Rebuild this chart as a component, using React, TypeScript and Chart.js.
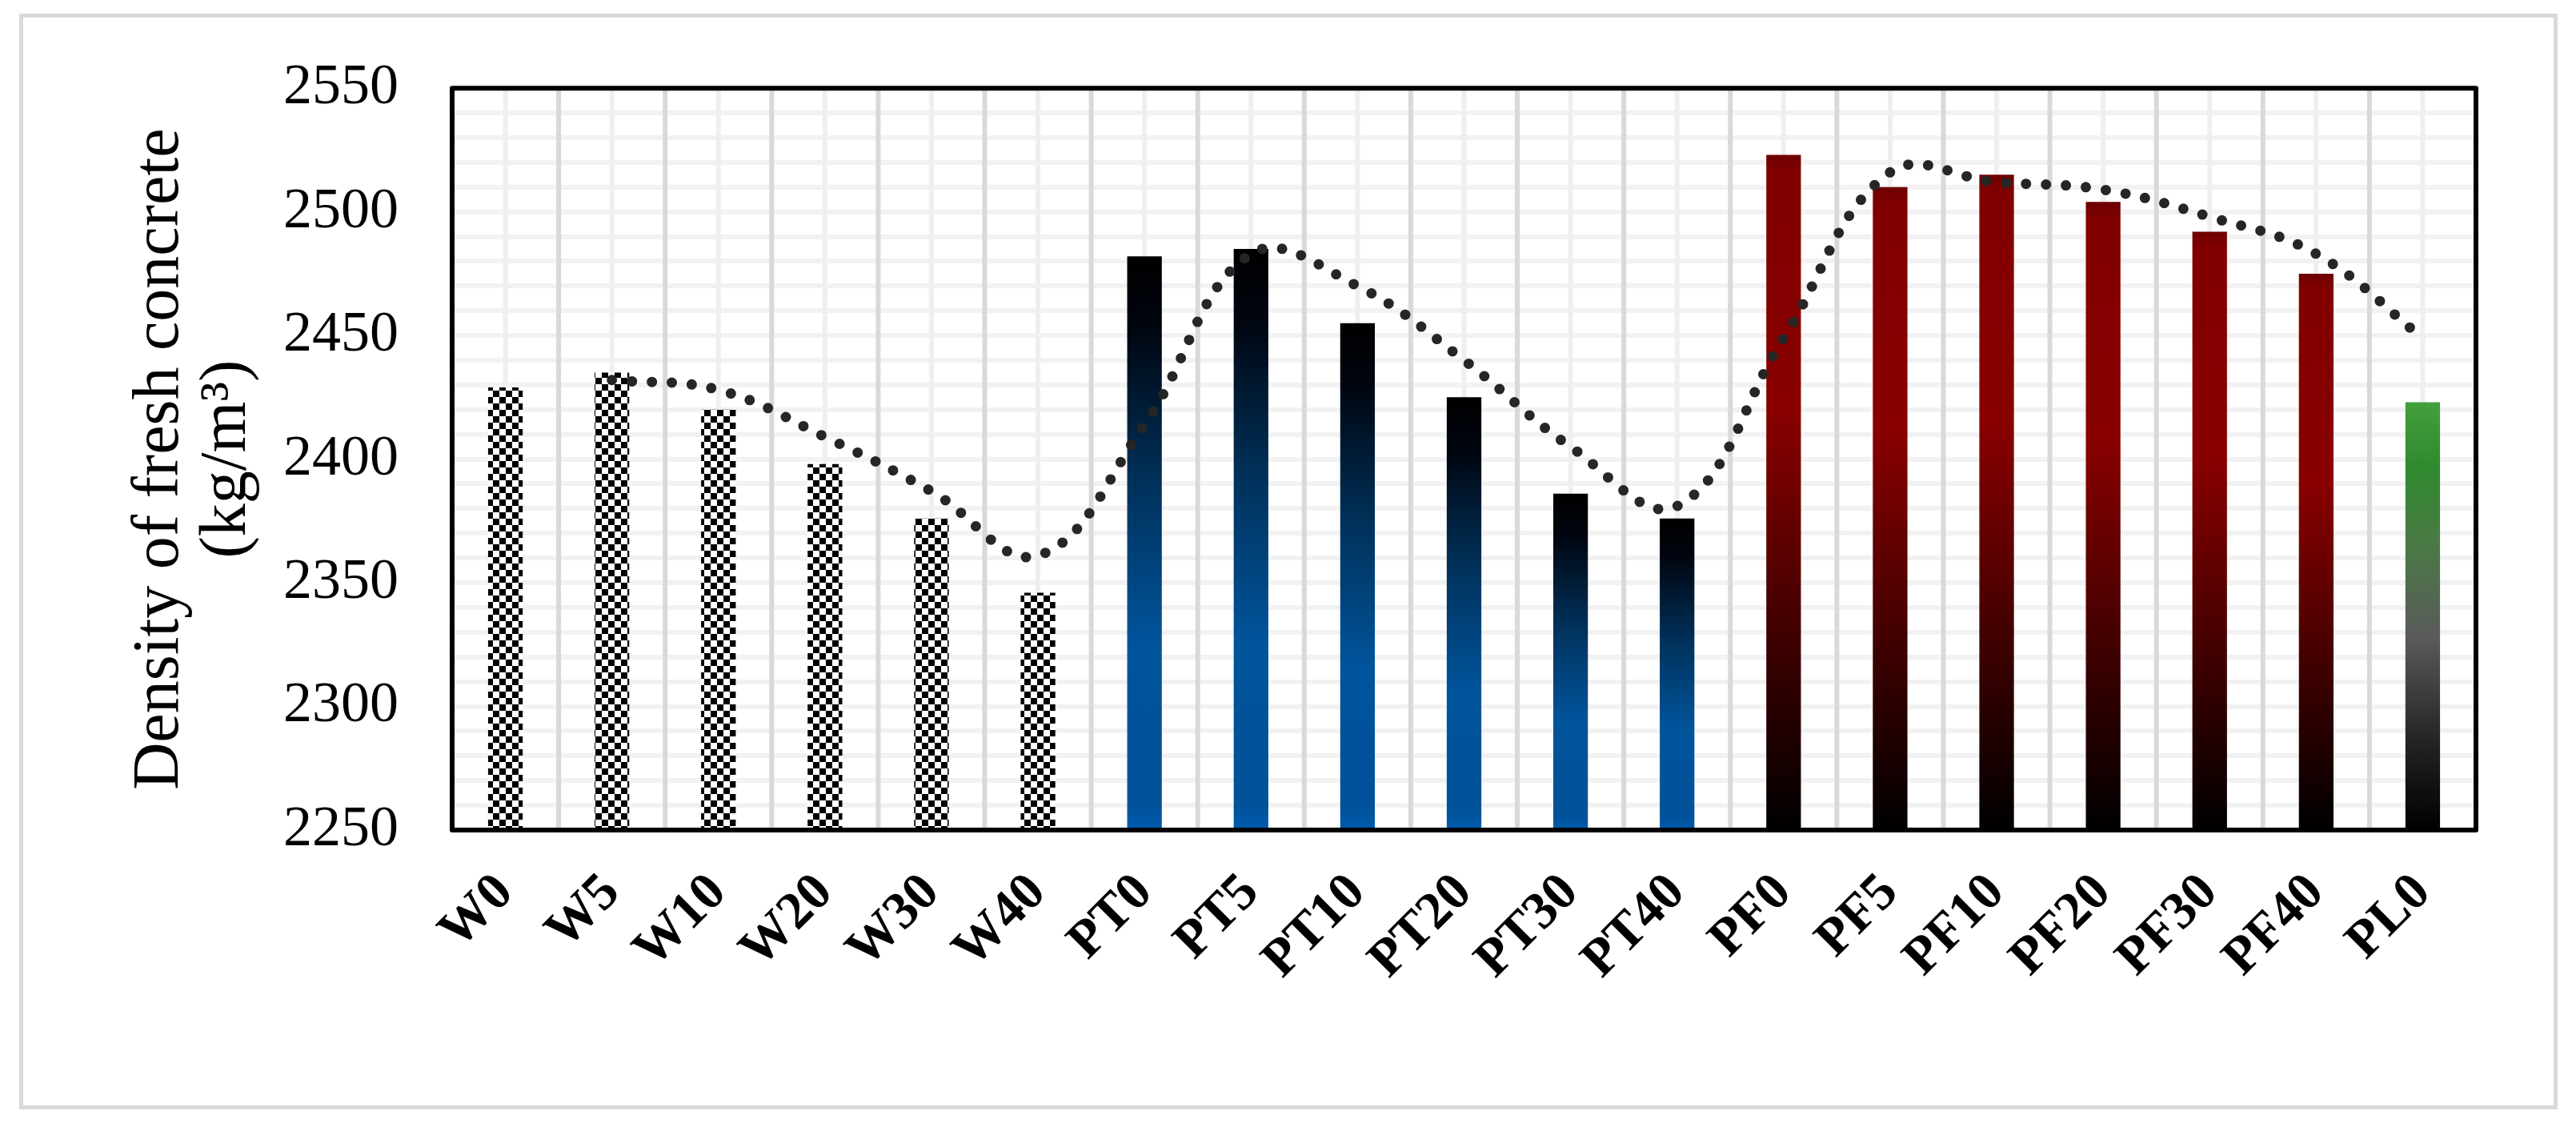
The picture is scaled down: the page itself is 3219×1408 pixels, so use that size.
import React, { useEffect, useRef } from 'react';
import { Chart, registerables } from 'chart.js';

Chart.register(...registerables);

// ---------- data ----------
const categories = ['W0', 'W5', 'W10', 'W20', 'W30', 'W40', 'PT0', 'PT5', 'PT10', 'PT20', 'PT30', 'PT40', 'PF0', 'PF5', 'PF10', 'PF20', 'PF30', 'PF40', 'PL0'];
const groups = ['W', 'W', 'W', 'W', 'W', 'W', 'PT', 'PT', 'PT', 'PT', 'PT', 'PT', 'PF', 'PF', 'PF', 'PF', 'PF', 'PF', 'PL'];
const densityValues = [2429, 2435, 2420, 2398, 2376, 2346, 2482, 2485, 2455, 2425, 2386, 2376, 2523, 2510, 2515, 2504, 2492, 2475, 2423];
// dotted trendline (2-period moving average)
const trendValues: (number | null)[] = [null, 2432, 2428, 2409, 2387, 2361, 2414, 2483, 2470, 2440, 2405, 2381, 2449, 2516, 2512, 2509, 2498, 2483, 2449];
const yTickLabels = [2250, 2300, 2350, 2400, 2450, 2500, 2550];
const yMin = 2250;
const yMax = 2550;
const yMinorStep = 10;
const yTitleLines = ['Density of fresh concrete', '(kg/m\u00B3)'];

const W = 3219;
const H = 1408;
const SERIF = "'Liberation Serif', 'Times New Roman', Times, serif";

function makeChecker(): CanvasPattern | string {
  const s = 8;
  const c = document.createElement('canvas');
  c.width = s * 2;
  c.height = s * 2;
  const g = c.getContext('2d');
  if (!g) return '#000';
  g.fillStyle = '#ffffff';
  g.fillRect(0, 0, s * 2, s * 2);
  g.fillStyle = '#000000';
  g.fillRect(0, 0, s, s);
  g.fillRect(s, s, s, s);
  const p = g.createPattern(c, 'repeat');
  return p || '#000';
}

const framePlugin = {
  id: 'framePlugin',
  beforeDraw(chart: any) {
    const ctx = chart.ctx;
    ctx.save();
    ctx.fillStyle = '#ffffff';
    ctx.fillRect(0, 0, chart.width, chart.height);
    ctx.strokeStyle = '#d9d9d9';
    ctx.lineWidth = 5;
    ctx.strokeRect(26.5, 19.5, 3167, 1364);
    ctx.restore();
  },
  beforeDatasetsDraw(chart: any) {
    const ctx = chart.ctx;
    const a = chart.chartArea;
    const xs = chart.scales.x;
    ctx.save();
    ctx.lineWidth = 6;
    // minor lines at category centres
    ctx.strokeStyle = '#efefef';
    for (let i = 0; i < categories.length; i++) {
      const px = xs.getPixelForValue(i);
      ctx.beginPath();
      ctx.moveTo(px, a.top);
      ctx.lineTo(px, a.bottom);
      ctx.stroke();
    }
    // major lines at category boundaries
    ctx.strokeStyle = '#d9d9d9';
    for (let i = 0; i < categories.length - 1; i++) {
      const px = (xs.getPixelForValue(i) + xs.getPixelForValue(i + 1)) / 2;
      ctx.beginPath();
      ctx.moveTo(px, a.top);
      ctx.lineTo(px, a.bottom);
      ctx.stroke();
    }
    ctx.restore();
  },
  afterDraw(chart: any) {
    const ctx = chart.ctx;
    const a = chart.chartArea;
    ctx.save();
    ctx.strokeStyle = '#000000';
    ctx.lineWidth = 6;
    ctx.lineJoin = 'round';
    ctx.strokeRect(a.left, a.top, a.right - a.left, a.bottom - a.top);
    // y title
    const cy = (a.top + a.bottom) / 2;
    ctx.fillStyle = '#000000';
    ctx.font = `82px ${SERIF}`;
    ctx.textAlign = 'center';
    ctx.textBaseline = 'middle';
    const xsLines = [200, 284];
    yTitleLines.forEach((t, i) => {
      ctx.save();
      ctx.translate(xsLines[i], cy);
      ctx.rotate(-Math.PI / 2);
      ctx.fillText(t, 0, 0);
      ctx.restore();
    });
    ctx.restore();
  },
};

export default function App() {
  const ref = useRef<HTMLCanvasElement | null>(null);

  useEffect(() => {
    if (!ref.current) return;
    const checker = makeChecker();

    const barFill = (c: any) => {
      const chart = c.chart;
      const i = c.dataIndex;
      const grp = groups[i];
      if (grp === 'W') return checker;
      const ys = chart.scales && chart.scales.y;
      if (!chart.chartArea || !ys || i === undefined) return '#000';
      const top = ys.getPixelForValue(densityValues[i]);
      const bot = ys.getPixelForValue(yMin);
      const g = chart.ctx.createLinearGradient(0, top, 0, bot);
      if (grp === 'PT') {
        g.addColorStop(0, '#000000');
        g.addColorStop(0.12, '#00050f');
        g.addColorStop(0.4, '#00325c');
        g.addColorStop(0.68, '#00549c');
        g.addColorStop(0.96, '#00529a');
        g.addColorStop(1, '#005cae');
      } else if (grp === 'PF') {
        g.addColorStop(0, '#6e0000');
        g.addColorStop(0.03, '#820000');
        g.addColorStop(0.38, '#880000');
        g.addColorStop(1, '#000000');
      } else {
        g.addColorStop(0, '#42a03c');
        g.addColorStop(0.15, '#2f8a2f');
        g.addColorStop(0.33, '#4a7a45');
        g.addColorStop(0.55, '#5a5a5a');
        g.addColorStop(0.8, '#222222');
        g.addColorStop(1, '#000000');
      }
      return g;
    };

    const chart = new Chart(ref.current, {
      type: 'bar',
      data: {
        labels: categories,
        datasets: [
          {
            type: 'line',
            label: 'Trend',
            data: trendValues,
            borderColor: '#262626',
            borderWidth: 13,
            borderDash: [0, 25],
            borderCapStyle: 'round',
            pointRadius: 0,
            pointHoverRadius: 0,
            tension: 0.4,
            fill: false,
            spanGaps: false,
            order: 0,
          } as any,
          {
            type: 'bar',
            label: 'Density',
            data: densityValues,
            backgroundColor: barFill,
            borderWidth: 0,
            barPercentage: 0.325,
            categoryPercentage: 1,
            order: 1,
          } as any,
        ],
      },
      options: {
        responsive: false,
        animation: false,
        devicePixelRatio: 1,
        events: [],
        layout: { padding: { left: 0, top: 76, right: 125, bottom: 0 } },
        plugins: {
          legend: { display: false },
          tooltip: { enabled: false },
          title: { display: false },
        },
        scales: {
          x: {
            type: 'category',
            offset: true,
            grid: { display: false },
            border: { display: false },
            ticks: {
              autoSkip: false,
              minRotation: 45,
              maxRotation: 45,
              padding: 32,
              color: '#000000',
              font: { family: SERIF, size: 66, weight: 'bold' },
            },
            afterFit: (s: any) => {
              s.height = 371;
            },
          },
          y: {
            type: 'linear',
            min: yMin,
            max: yMax,
            grid: { color: '#f2f2f2', lineWidth: 6, drawTicks: false },
            border: { display: false },
            ticks: {
              stepSize: yMinorStep,
              autoSkip: false,
              padding: 67,
              color: '#000000',
              font: { family: SERIF, size: 72 },
              callback: (v: any) => (yTickLabels.includes(Number(v)) ? String(v) : ''),
            },
            afterFit: (s: any) => {
              s.width = 565;
            },
          },
        },
      } as any,
      plugins: [framePlugin],
    });

    return () => chart.destroy();
  }, []);

  return (
    <div style={{ position: 'absolute', left: 0, top: 0, width: W, height: H, background: '#ffffff' }}>
      <canvas ref={ref} width={W} height={H} style={{ display: 'block', width: W, height: H }} />
    </div>
  );
}
